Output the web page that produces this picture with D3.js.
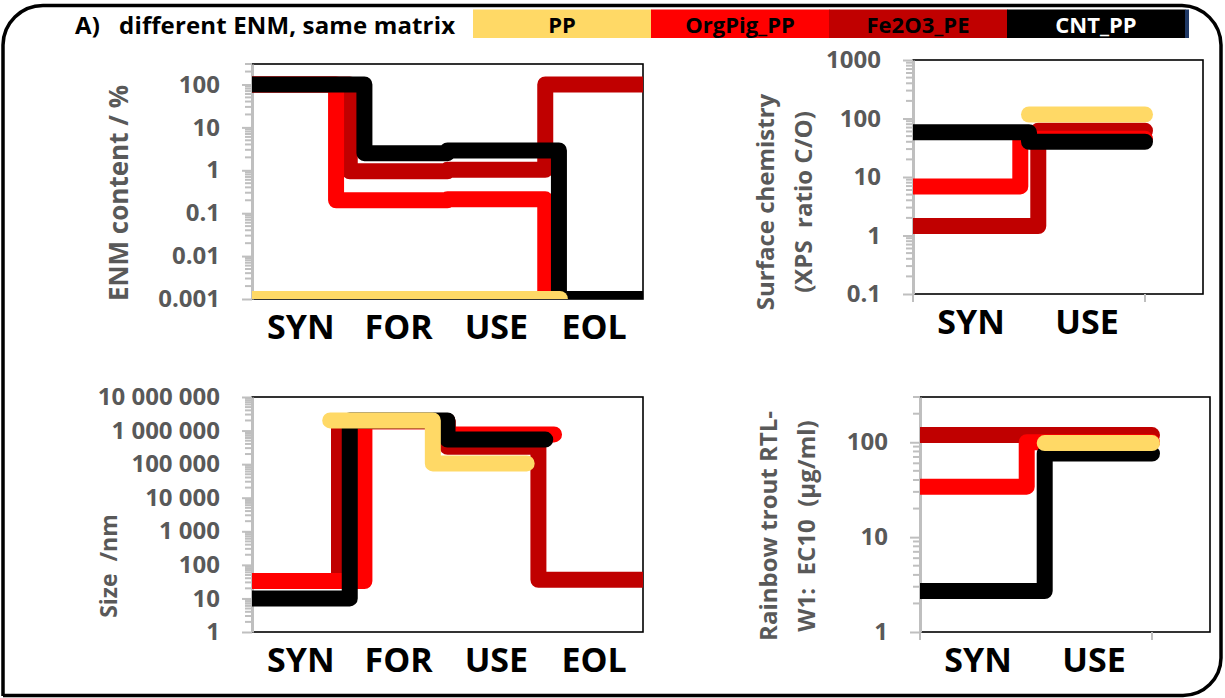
<!DOCTYPE html>
<html>
<head>
<meta charset="utf-8">
<script src="https://cdn.jsdelivr.net/npm/d3@7"></script>
<style>
  body { margin: 0; background: #fff; }
  svg { font-family: "Open Sans", sans-serif; font-weight: bold; }
</style>
</head>
<body>
<svg id="chart" width="1225" height="698"></svg>
<script>
// legend order and colours
const seriesNames = ["PP", "OrgPig_PP", "Fe2O3_PE", "CNT_PP"];
const seriesColors = ["#FFD966", "#FF0000", "#C00000", "#000000"];
// order the lines are painted in (last one on top)
const drawOrder = ["Fe2O3_PE", "OrgPig_PP", "CNT_PP", "PP"];

const lifeStages = ["SYN", "FOR", "USE", "EOL"];
const shortStages = ["SYN", "USE"];

// each pair: [stage position where the step starts, value]
const enmContent = {
  PP:        [[0, 0.001], [3.15, 0.001]],
  OrgPig_PP: [[0, 100], [0.86, 0.2], [2.0, 0.21], [3.0, 0.001]],
  Fe2O3_PE:  [[0, 100], [1.0, 0.95], [2.0, 1.03], [3.0, 100], [4, 100]],
  CNT_PP:    [[0, 100], [1.15, 2.5], [2.0, 2.9], [3.14, 0.001], [4, 0.001]]
};
const enmTicks = [0.001, 0.01, 0.1, 1, 10, 100];

const surfaceChem = {
  PP:        [[1.0, 117], [2.0, 117]],
  OrgPig_PP: [[0, 6.9], [0.925, 45], [2.0, 45]],
  Fe2O3_PE:  [[0, 1.45], [1.08, 62], [2.0, 62]],
  CNT_PP:    [[0, 58], [1.0, 40], [2.0, 40]]
};
const surfaceTicks = [0.1, 1, 10, 100, 1000];

const sizeNm = {
  PP:        [[0.8, 2000000], [1.85, 105000], [2.81, 105000]],
  OrgPig_PP: [[0, 33], [1.15, 1900000], [2.0, 770000], [3.09, 770000]],
  Fe2O3_PE:  [[0, 33], [0.89, 1900000], [2.0, 330000], [2.93, 36], [4, 36]],
  CNT_PP:    [[0, 10], [1.0, 2000000], [2.0, 540000], [3.0, 540000]]
};
const sizeTicks = [1, 10, 100, 1000, 10000, 100000, 1000000, 10000000];

const troutEC10 = {
  PP:        [[1.075, 98], [2.0, 98]],
  OrgPig_PP: [[0, 34], [0.92, 100], [2.0, 100]],
  Fe2O3_PE:  [[0, 119], [2.0, 119]],
  CNT_PP:    [[0, 2.7], [1.075, 76], [2.0, 76]]
};
const troutTicks = [1, 10, 100];

const svg = d3.select("#chart");
const grey = "#595959";
const axisGrey = "#BFBFBF";

// frame round the whole figure
svg.append("path")
  .attr("d", "M3,696 L3,45 A40,40 0 0 1 43,5.5 L1182,5.5 A40,40 0 0 1 1221,45 L1221,658 A38,38 0 0 1 1183,695.5 L3,695.5")
  .attr("fill", "none").attr("stroke", "#000").attr("stroke-width", 3.5);

// header + legend
svg.append("text").attr("x", 75).attr("y", 34)
  .attr("font-size", 24).attr("fill", "#000")
  .attr("textLength", 380)
  .style("white-space", "pre")
  .text("A)   different ENM, same matrix");

const legendX = d3.scaleBand().domain(seriesNames).range([473, 1185]);
const legend = svg.append("g");
legend.selectAll("rect").data(seriesNames).join("rect")
  .attr("x", d => legendX(d)).attr("y", 9.5)
  .attr("width", legendX.bandwidth() + 0.5).attr("height", 28.5)
  .attr("fill", (d, i) => seriesColors[i]);
legend.append("rect").attr("x", 1185).attr("y", 9.5).attr("width", 4).attr("height", 28.5).attr("fill", "#1F3864");
legend.selectAll("text").data(seriesNames).join("text")
  .attr("x", d => legendX(d) + legendX.bandwidth() / 2).attr("y", 33)
  .attr("text-anchor", "middle").attr("font-size", 22)
  .attr("fill", d => d === "CNT_PP" ? "#fff" : "#000")
  .text(d => d);

let clipId = 0;

function drawPanel(cfg) {
  const g = svg.append("g").attr("transform", "translate(" + cfg.left + "," + cfg.top + ")");
  const x = d3.scaleLinear().domain(cfg.xDomain).range([0, cfg.width]);
  const y = d3.scaleLog().domain(cfg.yDomain).range([cfg.height, 0]);

  g.append("rect").attr("width", cfg.width).attr("height", cfg.height)
    .attr("fill", "#fff").attr("stroke", "#000").attr("stroke-width", 1.6);

  // minor log ticks
  const minors = [];
  const lo = Math.floor(Math.log10(cfg.yDomain[0])), hi = Math.ceil(Math.log10(cfg.yDomain[1]));
  for (let p = lo; p < hi; p++) {
    for (let k = 2; k <= 9; k++) {
      const v = k * Math.pow(10, p);
      if (v >= cfg.yDomain[0] && v <= cfg.yDomain[1]) minors.push(v);
    }
  }
  g.append("g").selectAll("line").data(minors).join("line")
    .attr("x1", -7).attr("x2", 0)
    .attr("y1", d => y(d)).attr("y2", d => y(d))
    .attr("stroke", axisGrey).attr("stroke-width", 2);

  const yAxis = d3.axisLeft(y).tickValues(cfg.ticks).tickFormat(cfg.format)
    .tickSizeInner(10).tickSizeOuter(0).tickPadding(22);
  const ya = g.append("g").call(yAxis);
  ya.select(".domain").attr("stroke", axisGrey).attr("stroke-width", 3);
  ya.selectAll(".tick line").attr("stroke", axisGrey).attr("stroke-width", 2);
  ya.selectAll(".tick text").attr("fill", grey).attr("font-size", 24)
    .attr("font-family", "Open Sans").attr("font-weight", "bold")
    .style("white-space", "pre");

  // category tick marks under the axis (two-stage panels only)
  g.append("g").selectAll("line").data(cfg.xTicks).join("line")
    .attr("x1", d => x(d)).attr("x2", d => x(d))
    .attr("y1", cfg.height).attr("y2", cfg.height + 8)
    .attr("stroke", axisGrey).attr("stroke-width", 2);

  // stage names
  g.append("g").selectAll("text").data(cfg.stages).join("text")
    .attr("x", (d, i) => x(i + 0.5)).attr("y", cfg.height + 40)
    .attr("text-anchor", "middle").attr("font-size", 34).attr("fill", "#000")
    .text(d => d);

  // lines
  const cid = "clip" + (clipId++);
  g.append("clipPath").attr("id", cid).append("rect")
    .attr("width", cfg.width).attr("height", cfg.height);

  const line = d3.line()
    .x(d => x(d[0])).y(d => y(d[1]))
    .curve(d3.curveStepAfter);

  const lines = g.append("g").attr("clip-path", "url(#" + cid + ")");
  drawOrder.forEach(name => {
    lines.append("path")
      .datum(cfg.data[name])
      .attr("d", line)
      .attr("fill", "none")
      .attr("stroke", seriesColors[seriesNames.indexOf(name)])
      .attr("stroke-width", 16)
      .attr("stroke-linejoin", "round")
      .attr("stroke-linecap", "round");
  });

  // y title (rotated)
  cfg.title.forEach((t, i) => {
    svg.append("text")
      .attr("transform", "translate(" + cfg.titleX[i] + "," + cfg.titleY + ") rotate(-90)")
      .attr("text-anchor", "middle").attr("dominant-baseline", "central")
      .attr("font-size", cfg.titleSize).attr("fill", grey)
      .style("white-space", "pre")
      .text(t);
  });
}

const plainFormat = d => String(d);
const spacedFormat = d => d3.format(",")(d).replace(/,/g, " ");

drawPanel({
  left: 252, top: 64, width: 391, height: 235,
  xDomain: [0, 4], yDomain: [0.001, 300],
  ticks: enmTicks, format: plainFormat,
  stages: lifeStages, xTicks: [],
  data: enmContent,
  title: ["ENM content / %"], titleX: [118], titleY: 193, titleSize: 26
});

drawPanel({
  left: 913, top: 60, width: 290, height: 234,
  xDomain: [0, 2.5], yDomain: [0.1, 1000],
  ticks: surfaceTicks, format: plainFormat,
  stages: shortStages, xTicks: [0, 2],
  data: surfaceChem,
  title: ["Surface chemistry", "(XPS  ratio C/O)"], titleX: [764, 802], titleY: 202, titleSize: 24
});

drawPanel({
  left: 252, top: 397, width: 391, height: 235,
  xDomain: [0, 4], yDomain: [1, 10000000],
  ticks: sizeTicks, format: spacedFormat,
  stages: lifeStages, xTicks: [],
  data: sizeNm,
  title: ["Size  /nm"], titleX: [108], titleY: 566, titleSize: 23
});

drawPanel({
  left: 920, top: 397, width: 290, height: 235,
  xDomain: [0, 2.5], yDomain: [1, 300],
  ticks: troutTicks, format: plainFormat,
  stages: shortStages, xTicks: [0, 2],
  data: troutEC10,
  title: ["Rainbow trout RTL-", "W1:  EC10  (µg/ml)"], titleX: [767, 805], titleY: 526, titleSize: 24
});
</script>
</body>
</html>
